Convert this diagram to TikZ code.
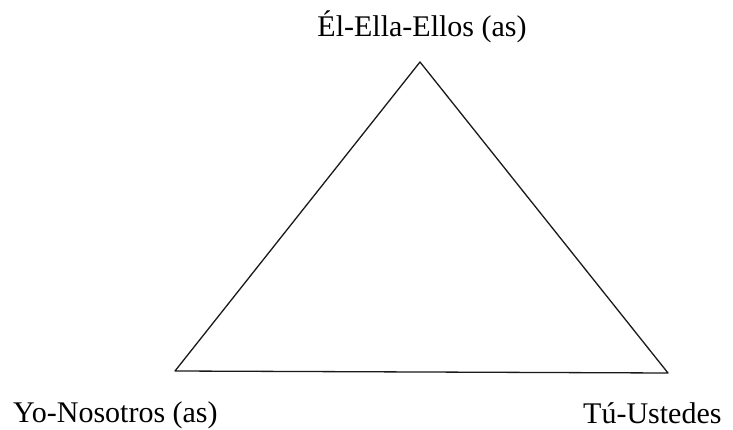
\documentclass[tikz,border=0pt]{standalone}
\usepackage{fontspec}
\setmainfont{Liberation Serif}

\begin{document}
\begin{tikzpicture}[x=1pt,y=-1pt,line cap=round,line join=round,every node/.style={inner sep=0pt,font=\fontsize{30}{32}\selectfont}]
  \useasboundingbox (0,0) rectangle (733,430);
  \coordinate (el) at (420,62);
  \coordinate (yo) at (175,371);
  \coordinate (tu) at (668,373);
  \draw[line width=1.3pt,black!90] (yo) -- (el) -- (tu) -- cycle;
  \node[anchor=base] (ella) at (422,37) {Él-Ella-Ellos (as)};
  \node[anchor=base west] (nosotros) at (13,422) {Yo-Nosotros (as)};
  \node[anchor=base west] (ustedes) at (583,423) {Tú-Ustedes};
\end{tikzpicture}
\end{document}
